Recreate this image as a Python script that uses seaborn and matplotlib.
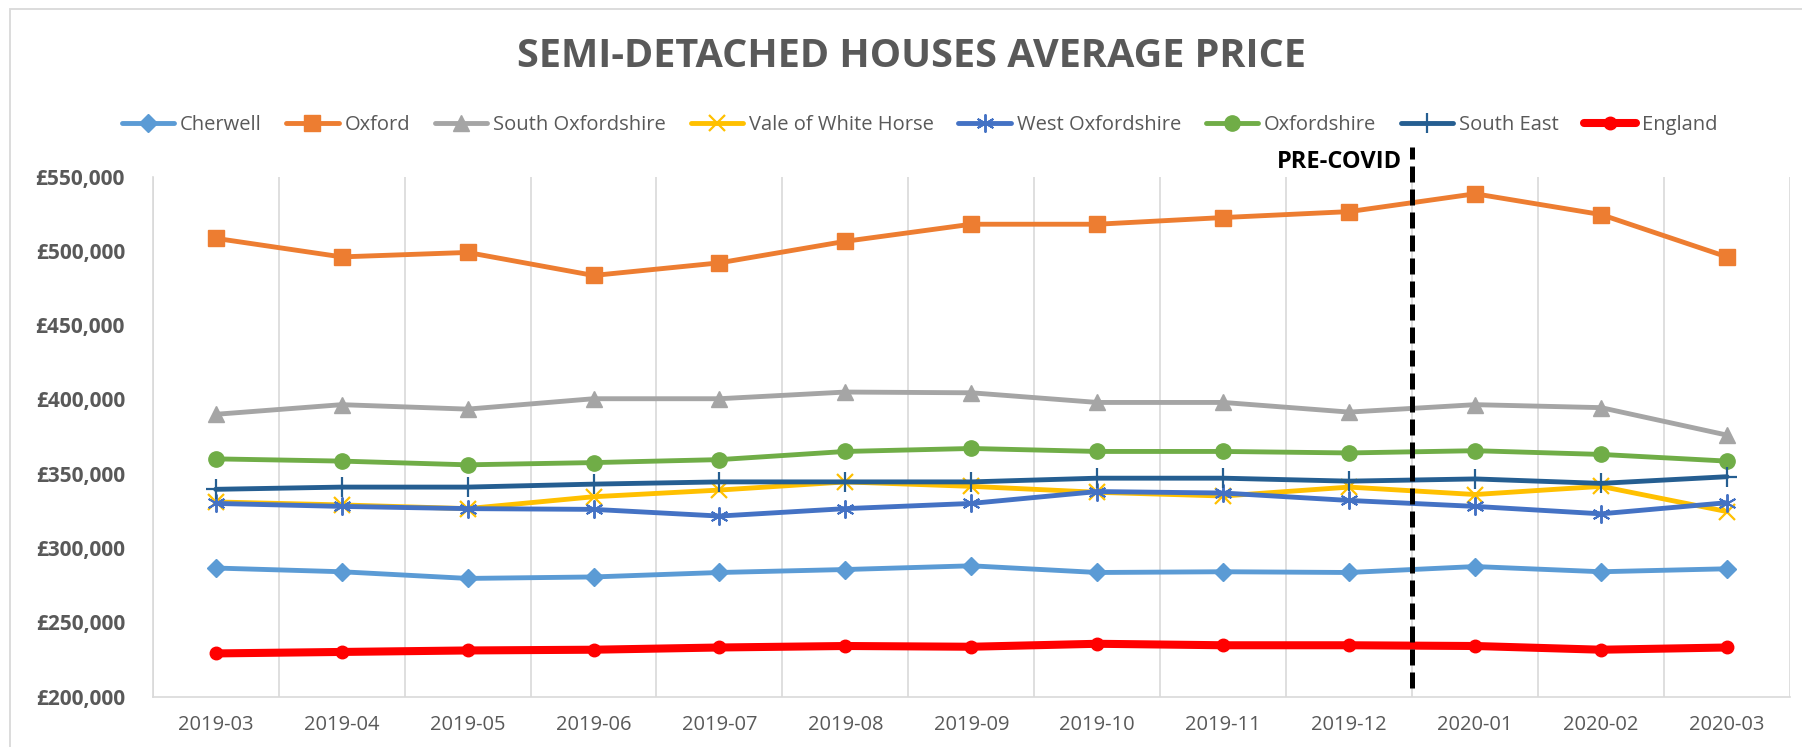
import matplotlib
matplotlib.use("Agg")
import matplotlib.pyplot as plt
import seaborn as sns
import pandas as pd
from matplotlib.ticker import FuncFormatter, FixedLocator
from matplotlib.patches import Rectangle

# ---------------- data ----------------
months = ["2019-03", "2019-04", "2019-05", "2019-06", "2019-07", "2019-08", "2019-09",
          "2019-10", "2019-11", "2019-12", "2020-01", "2020-02", "2020-03"]

cherwell = [286500, 284000, 279500, 280500, 283500, 285500, 288000, 283500, 284000, 283500, 287500, 284000, 286000]
oxford = [508500, 496000, 499000, 483500, 492000, 506500, 518000, 518000, 522500, 526500, 538500, 524500, 496000]
south_oxfordshire = [390000, 396500, 393500, 400500, 400500, 405000, 404500, 398000, 398000, 391500, 396500, 394500, 376000]
vale_of_white_horse = [331000, 329000, 326500, 334500, 339000, 344500, 341500, 337500, 335000, 341000, 336000, 341500, 324500]
west_oxfordshire = [330000, 328000, 326500, 326000, 321500, 326500, 330000, 338000, 337000, 332000, 328000, 323000, 330500]
oxfordshire = [360000, 358500, 356000, 357500, 359500, 365000, 367000, 365000, 365000, 364000, 365500, 363000, 358500]
south_east = [339500, 341000, 341000, 343000, 344500, 344500, 344500, 347000, 347000, 345000, 346500, 343500, 348000]
england = [229000, 230000, 231000, 231500, 233000, 234000, 233500, 235500, 234500, 234500, 234000, 231500, 233000]

series_names = ["Cherwell", "Oxford", "South Oxfordshire", "Vale of White Horse",
                "West Oxfordshire", "Oxfordshire", "South East", "England"]
series_values = [cherwell, oxford, south_oxfordshire, vale_of_white_horse,
                 west_oxfordshire, oxfordshire, south_east, england]

title = "SEMI-DETACHED HOUSES AVERAGE PRICE"
marker_label = "PRE-COVID"
y_ticks = [200000, 250000, 300000, 350000, 400000, 450000, 500000, 550000]

# ---------------- styles ----------------
colors = ["#5B9BD5", "#ED7D31", "#A5A5A5", "#FFC000", "#4472C4", "#70AD47", "#255E91", "#FF0000"]
markers = ["D", "s", "^", "x", (6, 2, 0), "o", "+", "o"]
msizes = [9, 11, 12, 11, 13, 11, 14, 9]
lwidths = [3.5, 3.5, 3.5, 3.5, 3.5, 3.5, 3.5, 5.8]
mews = [1, 1, 1, 1.6, 1.4, 1, 1.6, 1]

sns.set_theme(style="white")
plt.rcParams["font.family"] = ["Open Sans", "DejaVu Sans"]

W, H = 1802, 747
fig = plt.figure(figsize=(W / 100, H / 100), dpi=100)
ax = fig.add_axes([152.7 / W, 1 - 696.5 / H, (1790 - 152.7) / W, (696.5 - 176.7) / H])

# border of chart area
fig.patches.append(Rectangle((10 / W, -0.1), 1.2, 1.1 - 9 / H, transform=fig.transFigure,
                             fill=False, edgecolor="#D9D9D9", lw=1.3, zorder=0))

for i, (name, vals) in enumerate(zip(series_names, series_values)):
    df = pd.DataFrame({"month": months, "price": vals})
    sns.lineplot(data=df, x="month", y="price", ax=ax, color=colors[i], lw=lwidths[i],
                 marker=markers[i], markersize=msizes[i], markeredgewidth=mews[i],
                 markeredgecolor=colors[i], label=name, zorder=3 + i, sort=False)

ax.set_xlim(-0.5, len(months) - 0.5)
ax.set_ylim(200000, 550000)
ax.yaxis.set_major_locator(FixedLocator(y_ticks))
ax.yaxis.set_major_formatter(FuncFormatter(lambda v, p: "£{:,.0f}".format(v)))
ax.xaxis.set_minor_locator(FixedLocator([k - 0.5 for k in range(len(months) + 1)]))
ax.grid(False)
ax.grid(True, which="minor", axis="x", color="#D9D9D9", lw=1.2)
ax.set_xlabel("")
ax.set_ylabel("")
for s in ["top", "right"]:
    ax.spines[s].set_visible(False)
for s in ["left", "bottom"]:
    ax.spines[s].set_color("#D9D9D9")
    ax.spines[s].set_linewidth(1.2)
ax.tick_params(axis="both", which="both", length=0)
ax.tick_params(axis="y", pad=20)
ax.tick_params(axis="x", pad=13)
for lab in ax.get_yticklabels():
    lab.set_fontweight("bold")
    lab.set_fontsize(15)
    lab.set_color("#595959")
for lab in ax.get_xticklabels():
    lab.set_fontsize(14.5)
    lab.set_color("#595959")

# PRE-COVID dashed line between 2019-12 and 2020-01
ax.plot([9.5, 9.5], [205500, 570000], color="black", lw=3.6, ls=(0, (3.2, 1.4)),
        clip_on=False, zorder=20)
ax.text(9.42, 568000, marker_label, ha="right", va="top", fontsize=17,
        fontweight="bold", color="black", clip_on=False)

# title
fig.text(912 / W, 1 - 56.5 / H, title, ha="center", va="center", fontsize=28.5,
         fontweight="bold", color="#595959")

# legend
leg = ax.legend(loc="center", bbox_to_anchor=(919.5 / W, 1 - 125 / H),
                bbox_transform=fig.transFigure, ncol=8, frameon=False,
                fontsize=14.5, handlelength=2.6, handletextpad=0.3,
                columnspacing=1.22, borderaxespad=0)
for t in leg.get_texts():
    t.set_color("#595959")

fig.savefig("out.png", dpi=100, facecolor="white")
